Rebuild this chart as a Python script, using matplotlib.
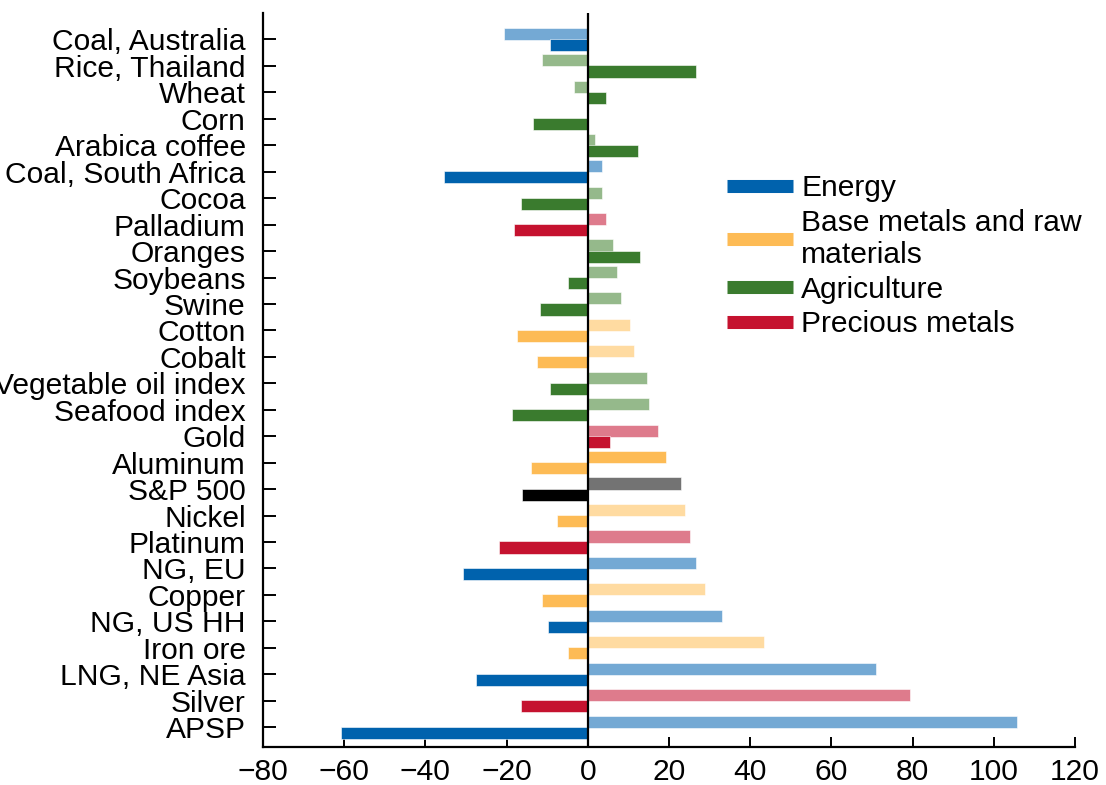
import matplotlib
matplotlib.use("Agg")
import matplotlib.pyplot as plt
from matplotlib.lines import Line2D

# commodities, top to bottom
names = [
    "Coal, Australia", "Rice, Thailand", "Wheat", "Corn", "Arabica coffee",
    "Coal, South Africa", "Cocoa", "Palladium", "Oranges", "Soybeans", "Swine",
    "Cotton", "Cobalt", "Vegetable oil index", "Seafood index", "Gold",
    "Aluminum", "S&P 500", "Nickel", "Platinum", "NG, EU", "Copper",
    "NG, US HH", "Iron ore", "LNG, NE Asia", "Silver", "APSP",
]
groups = [
    "energy", "agri", "agri", "agri", "agri",
    "energy", "agri", "precious", "agri", "agri", "agri",
    "base", "base", "agri", "agri", "precious",
    "base", "index", "base", "precious", "energy", "base",
    "energy", "base", "energy", "precious", "energy",
]
# upper (light) bar and lower (dark) bar, percent
upper = [
    -20.7, -11.4, -3.3, 0.0, 1.8,
    3.5, 3.5, 4.5, 6.1, 7.1, 8.3,
    10.3, 11.4, 14.5, 15.1, 17.2,
    19.3, 22.9, 24.0, 25.1, 26.6, 28.8,
    33.0, 43.5, 70.9, 79.4, 105.7,
]
lower = [
    -9.2, 26.6, 4.5, -13.4, 12.4,
    -35.5, -16.5, -18.1, 12.9, -4.9, -11.8,
    -17.5, -12.4, -9.2, -18.7, 5.5,
    -13.9, -16.1, -7.6, -21.8, -30.8, -11.3,
    -9.7, -4.9, -27.5, -16.5, -60.8,
]
# (light, dark)
palette = {
    "energy": ("#74A9D4", "#0062AD"),
    "base": ("#FFDBA1", "#FDBB55"),
    "agri": ("#95B98B", "#3A7B2E"),
    "precious": ("#DE7B8C", "#C5122F"),
    "index": ("#737373", "#000000"),
}
solid_upper = {"Aluminum"}  # drawn in the dark shade in the source

legend_labels = ["Energy", "Base metals and raw\nmaterials", "Agriculture", "Precious metals"]
legend_groups = ["energy", "base", "agri", "precious"]

plt.rcParams["font.family"] = ["Liberation Sans", "DejaVu Sans"]
FS = 21.6

fig = plt.figure(figsize=(11.06, 7.85), dpi=100)
ax = fig.add_axes([263 / 1106, 1 - 747 / 785, (1075 - 263) / 1106, (747 - 13) / 785])

pos = list(range(len(names)))
c_up = [palette[g][1] if n in solid_upper else palette[g][0] for n, g in zip(names, groups)]
c_lo = [palette[g][1] for g in groups]
h = 0.46
ax.barh([p - 0.21 for p in pos], upper, height=h, color=c_up, edgecolor="white", linewidth=0.4, zorder=2)
ax.barh([p + 0.21 for p in pos], lower, height=h, color=c_lo, edgecolor="white", linewidth=0.4, zorder=2)
ax.axvline(0, color="black", lw=1.6, zorder=3)

ax.set_xlim(-80, 120)
ax.set_ylim(len(names) - 1 + 0.75, -1.0)
ax.set_xticks(range(-80, 121, 20))
ax.set_yticks(pos)
ax.set_yticklabels(names)
for s in ["top", "right"]:
    ax.spines[s].set_visible(False)
for s in ["left", "bottom"]:
    ax.spines[s].set_linewidth(1.6)
ax.tick_params(axis="y", direction="in", length=9.5, width=1.4, pad=12.5, labelsize=FS)
ax.tick_params(axis="x", direction="in", length=7, width=1.4, pad=8, labelsize=FS)

handles = [Line2D([], [], color=palette[g][1], lw=9.4, solid_capstyle="butt") for g in legend_groups]
fig.legend(handles, legend_labels, loc="upper left", bbox_to_anchor=(727 / 1106, 1 - 174 / 785),
           frameon=False, fontsize=FS, handlelength=2.2, handletextpad=0.27,
           labelspacing=0.22, borderpad=0, borderaxespad=0)

fig.savefig("out.png", dpi=100)
